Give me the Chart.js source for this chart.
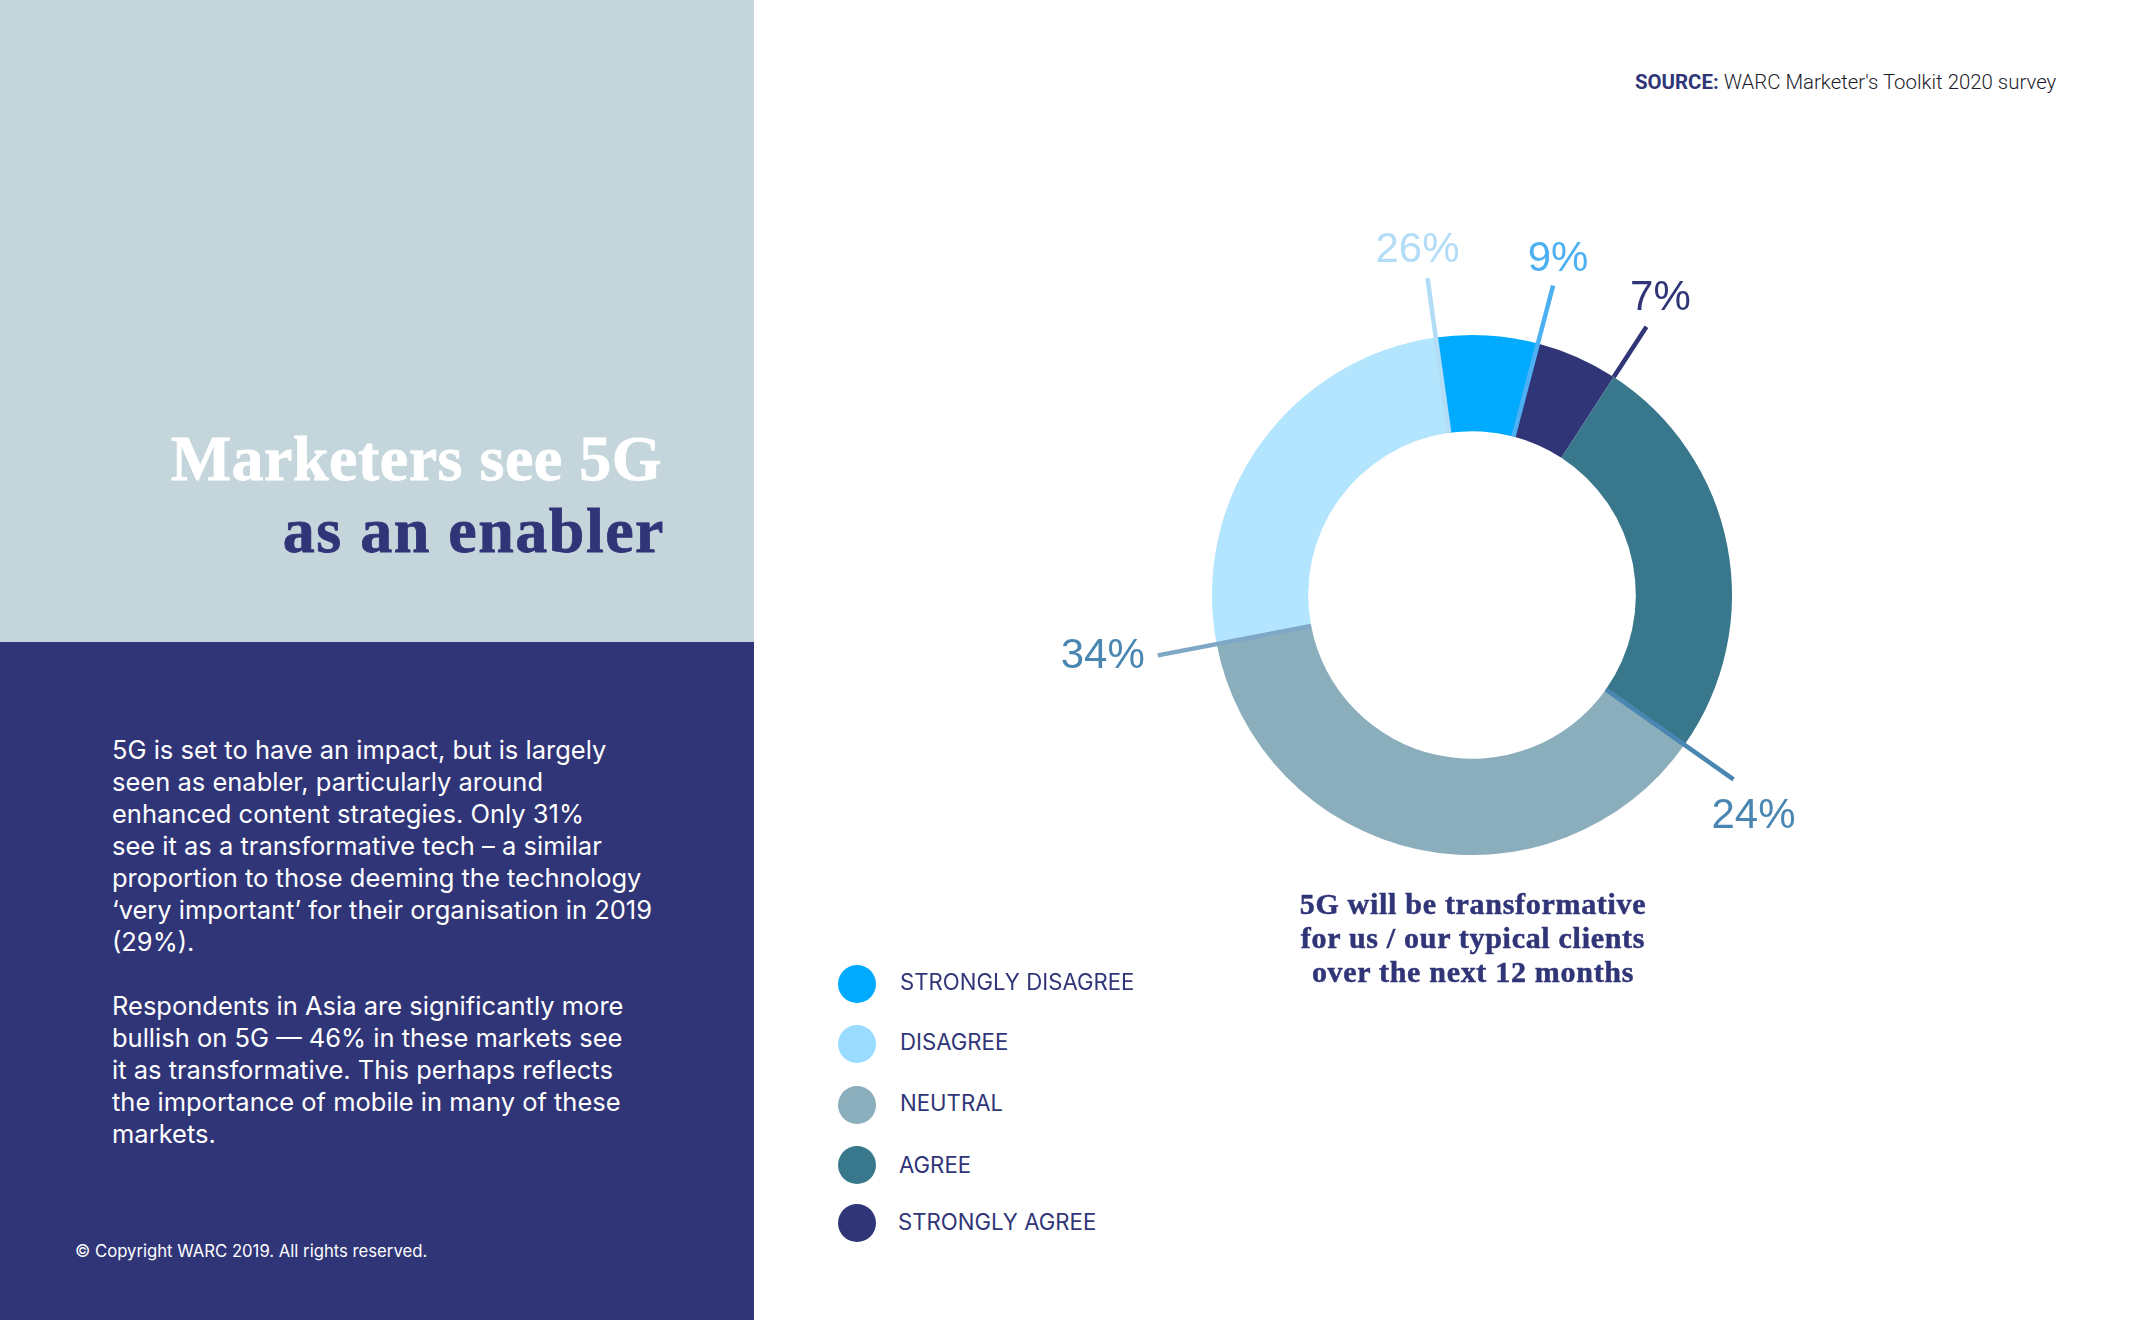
<!DOCTYPE html>
<html>
<head>
<meta charset="utf-8">
<title>Marketers see 5G as an enabler</title>
<script src="https://cdnjs.cloudflare.com/ajax/libs/Chart.js/4.4.1/chart.umd.js"></script>
<style>
  html, body { margin:0; padding:0; background:#fff; }
  #page { position:relative; width:2133px; height:1320px; overflow:hidden; font-family:Inter, sans-serif; }
  #panel-top { position:absolute; left:0; top:0; width:754px; height:642px; background:#c4d6dc; }
  #panel-bot { position:absolute; left:0; top:642px; width:754px; height:678px; background:#303578; }
  .title { position:absolute; font:bold 64px/73px "Liberation Serif", serif; white-space:nowrap; -webkit-text-stroke:0.8px currentColor; }
  #body-text { position:absolute; left:112px; top:734px; color:#fff; font-size:25.5px; line-height:32px; white-space:pre; }
  #copy { position:absolute; left:75px; top:1240px; color:#fff; font-size:16.7px; line-height:22px; white-space:nowrap; }
  #source { position:absolute; left:1635px; top:69px; font-family:Roboto, sans-serif; font-weight:300; font-size:20.4px; line-height:26px; color:#1c1c2a; white-space:nowrap; }
  #source b { color:#303578; font-weight:700; }
  #caption { position:absolute; left:1173px; width:600px; top:887px; text-align:center; color:#303578;
    font:bold 30px/34px "Liberation Serif", serif; letter-spacing:0.7px; white-space:pre; -webkit-text-stroke:0.5px currentColor; }
  #chart-box { position:absolute; left:1022px; top:145px; width:900px; height:900px; }
  .leg-dot { position:absolute; left:838px; width:38px; height:38px; border-radius:50%; }
  .leg-txt { position:absolute; left:900px; color:#303578; font-size:22.2px; line-height:28px; white-space:nowrap; }
</style>
</head>
<body>
<div id="page">
  <div id="panel-top"></div>
  <div id="panel-bot"></div>
  <div class="title" style="top:422px;right:1471px;color:#fff;letter-spacing:0.5px">Marketers see 5G</div>
  <div class="title" style="top:494px;right:1468px;color:#303578;letter-spacing:1.5px">as an enabler</div>
  <div id="body-text">5G is set to have an impact, but is largely
seen as enabler, particularly around
enhanced content strategies. Only 31%
see it as a transformative tech – a similar
proportion to those deeming the technology
‘very important’ for their organisation in 2019
(29%).

Respondents in Asia are significantly more
bullish on 5G — 46% in these markets see
it as transformative. This perhaps reflects
the importance of mobile in many of these
markets.</div>
  <div id="copy">© Copyright WARC 2019. All rights reserved.</div>
  <div id="source"><b>SOURCE:</b> WARC Marketer's Toolkit 2020 survey</div>
  <div id="chart-box"><canvas id="chart-5g"></canvas></div>
  <div id="caption">5G will be transformative
for us / our typical clients
over the next 12 months</div>
  <div id="legend"></div>
</div>
<script>
// slices in reference order, clockwise from just left of 12 o'clock
const categories = ['STRONGLY DISAGREE', 'STRONGLY AGREE', 'AGREE', 'NEUTRAL', 'DISAGREE'];
// arc sizes as drawn in the picture (the printed labels below do not quite agree with them)
const drawnShare = [6.3, 5.1, 25.6, 37.2, 25.8];
const printedLabels = ['9%', '7%', '24%', '34%', '26%'];
const sliceColors = ['#00aaff', '#303578', '#39788c', '#8aaebb', '#b3e5ff'];
const labelColors = ['#4db0f2', '#303578', '#4a86b2', '#4a86b2', '#b3dcf7'];
const lineColors  = ['#4db0f2', '#303578', '#4a86b2', '#7fa8c6', '#b3dcf7'];

// legend has its own order
const legendLabels = ['STRONGLY DISAGREE', 'DISAGREE', 'NEUTRAL', 'AGREE', 'STRONGLY AGREE'];
const legendColors = ['#00aaff', '#99dcff', '#8aaebb', '#39788c', '#303578'];
const legendDotTop = [965, 1025, 1086, 1146, 1204];
const legendTxtTop = [968, 1028, 1089, 1151, 1208];
const legendTxtLeft = [900, 900, 900, 899, 898];

const legendEl = document.getElementById('legend');
legendLabels.forEach((t, i) => {
  legendEl.insertAdjacentHTML('beforeend',
    `<div class="leg-dot" style="top:${legendDotTop[i]}px;background:${legendColors[i]}"></div>` +
    `<div class="leg-txt" style="top:${legendTxtTop[i]}px;left:${legendTxtLeft[i]}px">${t}</div>`);
});

const LEADER_LEN = 60;
// label centre relative to the outer end of its leader
const labelOffset = [[5, -26], [14, -28], [20, 37], [-55, 1], [-10, -28]];

const leaderPlugin = {
  id: 'leaders',
  afterDatasetsDraw(chart) {
    const ctx = chart.ctx;
    chart.getDatasetMeta(0).data.forEach((arc, i) => {
      const a = arc.endAngle;
      const cos = Math.cos(a), sin = Math.sin(a);
      // the navy one only shows outside the ring
      const r0 = i === 1 ? arc.outerRadius : arc.innerRadius;
      const r1 = arc.outerRadius + LEADER_LEN;
      const ex = arc.x + cos * r1, ey = arc.y + sin * r1;
      ctx.save();
      ctx.strokeStyle = lineColors[i];
      ctx.lineWidth = 4.5;
      ctx.beginPath();
      ctx.moveTo(arc.x + cos * r0, arc.y + sin * r0);
      ctx.lineTo(ex, ey);
      ctx.stroke();
      ctx.fillStyle = labelColors[i];
      ctx.font = '42px "Liberation Sans", sans-serif';
      ctx.textAlign = 'center';
      ctx.textBaseline = 'middle';
      ctx.fillText(printedLabels[i], ex + labelOffset[i][0], ey + labelOffset[i][1]);
      ctx.restore();
    });
  }
};

new Chart(document.getElementById('chart-5g'), {
  type: 'doughnut',
  data: {
    labels: categories,
    datasets: [{ data: drawnShare, backgroundColor: sliceColors, borderWidth: 0 }]
  },
  options: {
    responsive: true,
    maintainAspectRatio: true,
    animation: false,
    cutout: '63%',
    rotation: -8,
    layout: { padding: 190 },
    plugins: { legend: { display: false }, tooltip: { enabled: false } }
  },
  plugins: [leaderPlugin]
});
</script>
</body>
</html>
